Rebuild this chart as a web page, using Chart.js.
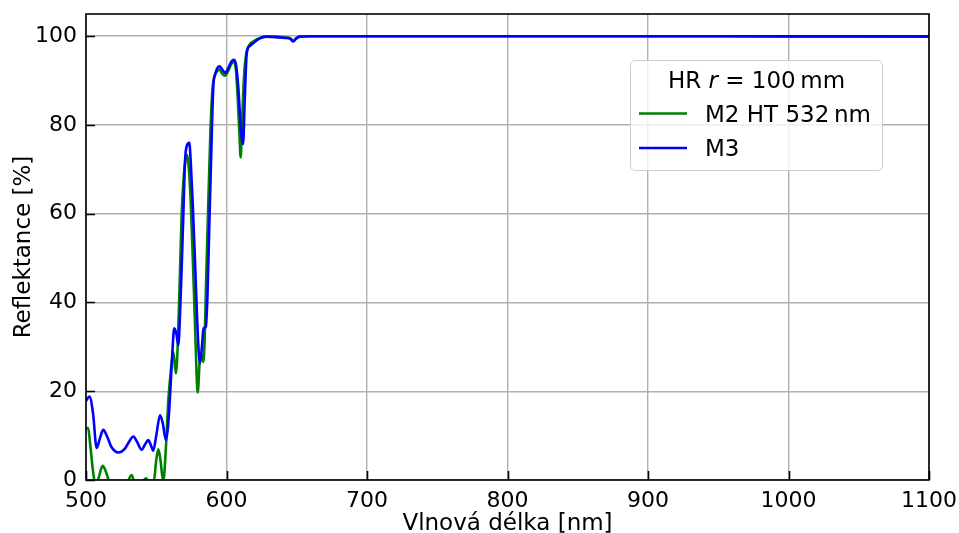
<!DOCTYPE html>
<html>
<head>
<meta charset="utf-8">
<script src="https://cdn.jsdelivr.net/npm/chart.js@4"></script>
<style>
  body { margin: 0; background: #fff; }
</style>
</head>
<body>
<canvas id="graf" width="959" height="533"></canvas>
<script>
// vlnove delky [nm] a reflektance [%] pro zrcadlo M2
const vlnaM2 = [500, 501.5, 503, 505, 507, 509, 511.9, 514, 516.6, 520, 525, 529, 532.5, 534.4, 537, 540, 542.7, 545, 548.4,
  550, 551.5, 553, 555, 557, 558.6, 560.5, 562.1, 564, 565.5, 567, 568.1, 569.5, 571, 572.1, 573, 574.5, 576, 577.5, 578.7, 579.5,
  581, 582.3, 583.5, 584.5, 585.5, 587, 588.5, 590, 591.5, 593, 595, 597, 599, 601, 603.5, 605, 606.5, 608, 609.2, 610.1,
  611, 612.5, 614, 616, 619, 623, 628, 635, 642, 645.5, 647.5, 649.5, 652, 660, 700, 800, 900, 1000, 1100];
const reflM2 = [11.6, 11.7, 8, 2, -1.5, 0.5, 3.2, 2, -0.5, -3, -3.5, -1, 1.1, -0.5, -1.5, -0.5, 0.4, -0.5, 0,
  4.5, 6.9, 4.5, -0.3, 8, 18, 25, 28.9, 24, 32, 48, 60, 68, 72.5, 73.2, 71, 63, 50, 36, 24, 19.7,
  27, 28.3, 26.6, 32, 45, 62, 78, 88, 91, 92, 92.5, 91.5, 91.1, 92, 93.8, 94.2, 93, 86, 78, 72.7,
  80, 91, 96, 97.9, 98.8, 99.5, 99.9, 99.9, 99.7, 99.5, 98.9, 99.5, 99.9, 100, 100, 100, 100, 99.95, 99.9];

// vlnove delky [nm] a reflektance [%] pro zrcadlo M3
const vlnaM3 = [500, 502.5, 505, 507.6, 510, 512.3, 515, 518, 523, 528, 531, 533.7, 536.5, 539.6, 542, 544.3, 546.2, 547.9,
  550, 552.7, 554.5, 556.9, 558.5, 560, 561.5, 562.8, 564.3, 565.7, 567, 568.3, 569.3, 570.5, 572, 573.5, 574.5, 576, 577.5,
  579, 580.2, 581.1, 582.5, 583.7, 585.3, 586.5, 587.8, 589, 590.6, 592, 593.5, 595, 597, 599, 601.5, 603.5, 605.3, 606.8,
  608.5, 610, 611.8, 613, 614.4, 616.5, 619, 623, 628, 635, 642, 645.5, 647.5, 649.5, 652, 660, 700, 800, 900, 1000, 1100];
const reflM3 = [17.8, 18.8, 15, 7.2, 9.5, 11.3, 9.8, 7.5, 6.2, 7.2, 8.8, 9.8, 8.5, 6.8, 8, 9, 7.8, 6.6,
  10, 14.6, 13, 9, 12.5, 20, 29, 34.2, 33, 30.4, 38, 50, 60, 72, 75.5, 76, 72, 62, 50,
  37, 29, 26.3, 30, 34.2, 34.5, 42, 58, 72, 88.6, 91.5, 92.8, 93.2, 92.5, 91.7, 93, 94.3, 94.7, 93.5,
  88, 80, 75.7, 86, 96.1, 97.8, 98.4, 99.4, 99.9, 99.8, 99.6, 99.4, 98.8, 99.4, 99.9, 100, 100, 100, 100, 99.95, 99.95];

const popisky = ['M2 HT 532\u2009nm', 'M3'];
const barvy = ['#008000', '#0000ff'];
const xTicky = [500, 600, 700, 800, 900, 1000, 1100];
const yTicky = [0, 20, 40, 60, 80, 100];

const pismo = 'DejaVu Sans';
const tloustka = 2.6;

const body = (xs, ys) => xs.map((x, i) => ({ x: x, y: ys[i] }));

// ramecek os a kratke ticky smerem dovnitr
const ramecek = {
  id: 'ramecek',
  afterDatasetsDraw(chart) {
    const { ctx, chartArea: a, scales } = chart;
    ctx.save();
    ctx.strokeStyle = '#000';
    ctx.lineWidth = 1.6;
    ctx.beginPath();
    xTicky.forEach(v => {
      const px = Math.round(scales.x.getPixelForValue(v)) + 0.5;
      ctx.moveTo(px, a.bottom);
      ctx.lineTo(px, a.bottom - 9);
    });
    yTicky.forEach(v => {
      const py = Math.round(scales.y.getPixelForValue(v)) + 0.5;
      ctx.moveTo(a.left, py);
      ctx.lineTo(a.left + 9, py);
    });
    ctx.stroke();
    ctx.strokeRect(a.left, a.top, a.right - a.left, a.bottom - a.top);
    ctx.restore();
  }
};

// legenda s titulkem, r kurzivou
const legenda = {
  id: 'legenda',
  afterDraw(chart) {
    const ctx = chart.ctx;
    const bx = 630.5, by = 60.5, bw = 252, bh = 110;
    ctx.save();
    ctx.beginPath();
    ctx.roundRect(bx, by, bw, bh, 5);
    ctx.fillStyle = 'rgba(255,255,255,0.8)';
    ctx.fill();
    ctx.strokeStyle = '#cccccc';
    ctx.lineWidth = 1;
    ctx.stroke();

    const casti = [
      { t: 'HR ', f: '23px "' + pismo + '"' },
      { t: 'r', f: 'oblique 23px "' + pismo + '"' },
      { t: ' = 100\u2009mm', f: '23px "' + pismo + '"' }
    ];
    let sirka = 0;
    casti.forEach(c => { ctx.font = c.f; c.w = ctx.measureText(c.t).width; sirka += c.w; });
    let x = bx + bw / 2 - sirka / 2;
    ctx.fillStyle = '#000';
    ctx.textBaseline = 'alphabetic';
    casti.forEach(c => { ctx.font = c.f; ctx.fillText(c.t, x, 87.5); x += c.w; });

    const radky = [113.5, 148];
    ctx.font = '23px "' + pismo + '"';
    popisky.forEach((p, i) => {
      ctx.strokeStyle = barvy[i];
      ctx.lineWidth = tloustka;
      ctx.beginPath();
      ctx.moveTo(639, radky[i]);
      ctx.lineTo(687, radky[i]);
      ctx.stroke();
      ctx.fillText(p, 705, radky[i] + 8.3);
    });
    ctx.restore();
  }
};

// presna velikost os, bez automatickych okraju pro popisky
const bezOkraju = s => { s.paddingLeft = 0; s.paddingRight = 0; s.paddingTop = 0; s.paddingBottom = 0; };

new Chart(document.getElementById('graf'), {
  type: 'line',
  data: {
    datasets: [
      { label: popisky[0], data: body(vlnaM2, reflM2), borderColor: barvy[0], borderWidth: tloustka, order: 1 },
      { label: popisky[1], data: body(vlnaM3, reflM3), borderColor: barvy[1], borderWidth: tloustka, order: 0 }
    ]
  },
  options: {
    responsive: false,
    animation: false,
    devicePixelRatio: 1,
    layout: { padding: { top: 14, right: 30, left: 0, bottom: 0 } },
    elements: {
      point: { radius: 0 },
      line: { cubicInterpolationMode: 'monotone', fill: false }
    },
    datasets: { line: { clip: 0 } },
    plugins: {
      legend: { display: false },
      tooltip: { enabled: false }
    },
    scales: {
      x: {
        type: 'linear',
        min: 500,
        max: 1100,
        afterFit: s => { s.height = 53; bezOkraju(s); },
        afterBuildTicks: s => { s.ticks = xTicky.map(v => ({ value: v })); },
        ticks: {
          color: '#000', padding: 8, maxRotation: 0,
          font: { family: pismo, size: 22 },
          callback: v => String(v)
        },
        grid: { color: '#b0b0b0', lineWidth: 1.4, drawTicks: false },
        border: { display: false },
        title: {
          display: true,
          text: 'Vlnová délka [nm]',
          color: '#000',
          font: { family: pismo, size: 23, lineHeight: 0.74 },
          padding: { top: 0, bottom: 0 }
        }
      },
      y: {
        min: 0,
        max: 105,
        afterFit: s => { s.width = 86; bezOkraju(s); },
        afterBuildTicks: s => { s.ticks = yTicky.map(v => ({ value: v })); },
        ticks: {
          color: '#000', padding: 9,
          font: { family: pismo, size: 22 },
          callback: v => String(v)
        },
        grid: { color: '#b0b0b0', lineWidth: 1.4, drawTicks: false },
        border: { display: false },
        title: {
          display: true,
          text: 'Reflektance [%]',
          color: '#000',
          font: { family: pismo, size: 23, lineHeight: 1 },
          padding: { top: 13, bottom: 0 }
        }
      }
    }
  },
  plugins: [ramecek, legenda]
});
</script>
</body>
</html>
